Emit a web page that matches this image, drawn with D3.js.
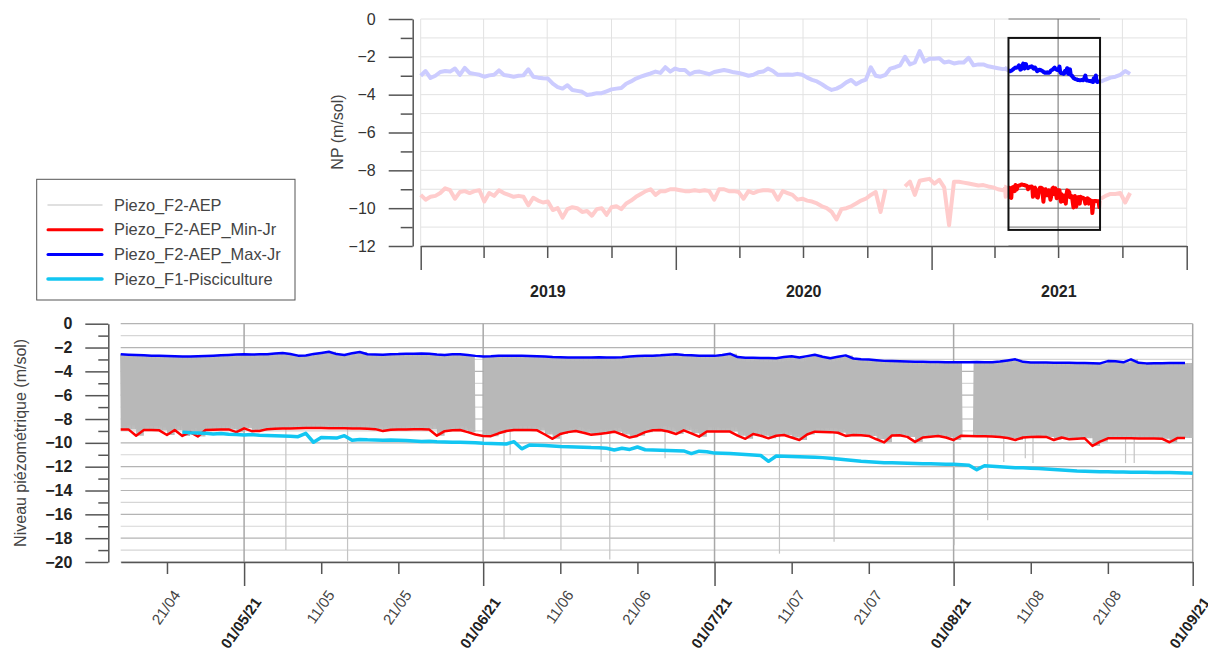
<!DOCTYPE html>
<html>
<head>
<meta charset="utf-8">
<script src="https://cdn.jsdelivr.net/npm/d3@7"></script>
<style>
  body { margin: 0; background: #fff; }
  svg { display: block; font-family: "Liberation Sans", Arial, sans-serif; }
</style>
</head>
<body>
<svg id="chart" width="1208" height="657"></svg>
<script>
// ---- data ----
// overview (top chart): one value per week from 2019-01-01, null = shown by the daily series
const overviewStart = '2019-01-01'
const overviewMax = [
  -3.0, -2.75, -3.12, -3.0, -2.8, -2.75, -2.78, -2.62, -2.95, -2.58,
  -2.85, -2.9, -2.95, -3.05, -2.98, -2.95, -2.72, -2.96, -3.0, -3.05,
  -3.0, -2.98, -2.66, -3.05, -3.1, -3.13, -3.15, -3.42, -3.6, -3.68,
  -3.5, -3.75, -3.8, -3.85, -4.02, -3.98, -3.92, -3.92, -3.82, -3.72,
  -3.68, -3.65, -3.42, -3.3, -3.15, -3.05, -2.96, -2.88, -2.78, -2.85,
  -2.55, -2.78, -2.62, -2.7, -2.7, -2.92, -2.8, -2.78, -2.85, -2.92,
  -2.8, -2.75, -2.7, -2.75, -2.82, -2.85, -2.92, -3.0, -2.95, -2.82,
  -2.78, -2.62, -2.75, -2.95, -2.95, -2.93, -2.95, -2.9, -2.95, -3.1,
  -3.22, -3.3, -3.45, -3.62, -3.75, -3.68, -3.55, -3.35, -3.22, -3.45,
  -3.3, -3.2, -2.55, -3.0, -3.05, -2.95, -2.62, -2.55, -2.45, -2.0,
  -2.4, -2.3, -1.7, -2.25, -2.1, -2.1, -2.08, -2.3, -2.25, -2.35,
  -2.3, -2.3, -2.05, -2.45, -2.4, -2.4, -2.5, -2.55, -2.6, -2.65, -2.62,
  null, null, null, null, null, null, null, null, null, null, null, null, null, null, null, null, null, null,
  -3.31, -3.2, -3.1, -3.05, -2.95, -2.75, -2.9
]
const overviewMin = [
  -9.3, -9.55, -9.4, -9.35, -9.2, -8.95, -9.05, -9.5, -9.15, -9.1,
  -9.2, -9.1, -9.05, -9.65, -9.2, -9.35, -9.05, -9.2, -9.3, -9.4,
  -9.35, -9.4, -9.85, -9.45, -9.6, -9.7, -9.65, -10.1, -10.0, -10.5,
  -10.05, -9.95, -10.0, -10.2, -10.15, -10.4, -10.05, -10.0, -10.35, -9.95,
  -9.9, -10.05, -9.75, -9.6, -9.4, -9.25, -9.1, -9.0, -9.3, -9.1,
  -9.1, -9.0, -9.0, -9.05, -9.1, -9.1, -9.05, -9.1, -9.05, -9.1,
  -9.55, -9.0, -9.0, -9.1, -9.1, -9.15, -9.5, -9.1, -9.2, -9.1,
  -9.05, -9.05, -9.1, -9.55, -9.1, -9.2, -9.3, -9.55, -9.5, -9.6,
  -9.65, -9.75, -9.9, -10.0, -10.2, -10.6, -10.05, -10.0, -9.9, -9.75,
  -9.6, -9.5, -9.3, -9.15, -10.2, -9.0, null, null, null, -8.85,
  -8.6, -9.3, -8.55, -8.5, -8.45, -8.7, -8.5, -8.9, -10.9, -8.6,
  -8.6, -8.65, -8.7, -8.75, -8.8, -8.78, -8.85, -8.9, -9.0, -9.05, -8.9,
  null, null, null, null, null, null, null, null, null, null, null, null, null, null, null, null, null, null,
  -9.5, -9.35, -9.25, -9.25, -9.2, -9.7, -9.2
]
const years = ['2019', '2020', '2021']
const zoomWindow = ['2021-04-21', '2021-08-30']
const zoomLevels = [-1, -11.15]

// daily series (bottom chart) from 2021-04-15
const dailyStart = '2021-04-15'
const dailyMax = [
  -2.57, -2.60, -2.62, -2.65, -2.68, -2.70, -2.72, -2.74, -2.76, -2.75,
  -2.73, -2.71, -2.68, -2.65, -2.62, -2.59, -2.57, -2.58, -2.57, -2.56,
  -2.50, -2.45, -2.55, -2.68, -2.66, -2.55, -2.45, -2.36, -2.55, -2.62,
  -2.48, -2.38, -2.56, -2.58, -2.60, -2.56, -2.55, -2.52, -2.53, -2.50,
  -2.52, -2.58, -2.62, -2.57, -2.56, -2.62, -2.70, -2.76, -2.74, -2.70,
  -2.68, -2.68, -2.70, -2.72, -2.74, -2.76, -2.80, -2.82, -2.84, -2.84,
  -2.83, -2.84, -2.82, -2.83, -2.84, -2.82, -2.76, -2.72, -2.70, -2.68,
  -2.65, -2.60, -2.57, -2.62, -2.65, -2.68, -2.70, -2.70, -2.62, -2.52,
  -2.80, -2.86, -2.86, -2.87, -2.88, -2.90, -2.80, -2.74, -2.84, -2.72,
  -2.60, -2.78, -2.90, -2.78, -2.66, -2.92, -2.99, -3.00, -3.06, -3.12,
  -3.14, -3.16, -3.18, -3.19, -3.20, -3.22, -3.22, -3.23, -3.24, -3.24,
  -3.23, -3.22, -3.23, -3.24, -3.18, -3.08, -2.99, -3.20, -3.25, -3.25,
  -3.26, -3.27, -3.28, -3.28, -3.29, -3.30, -3.32, -3.33, -3.14, -3.16,
  -3.24, -2.99, -3.28, -3.33, -3.32, -3.31, -3.30, -3.30, -3.30, null
]
const dailyMin = [
  -8.87, -8.87, -9.40, -8.92, -8.92, -8.95, -9.34, -8.92, -9.42, -9.10,
  -9.46, -8.92, -8.90, -8.88, -8.87, -9.10, -8.78, -9.02, -9.00, -8.85,
  -8.82, -8.80, -8.80, -8.78, -8.76, -8.75, -8.76, -8.77, -8.78, -8.78,
  -8.80, -8.80, -8.82, -8.85, -9.00, -8.90, -8.88, -8.87, -8.86, -8.85,
  -8.88, -9.40, -9.02, -8.95, -8.92, -9.10, -9.30, -9.42, -9.44, -9.20,
  -9.00, -8.92, -8.92, -8.92, -8.95, -9.30, -9.66, -9.26, -9.10, -9.00,
  -9.15, -9.32, -9.25, -9.18, -9.06, -9.30, -9.56, -9.40, -9.10, -8.95,
  -8.92, -9.05, -9.26, -8.95, -9.20, -9.48, -9.05, -9.05, -9.05, -9.05,
  -9.40, -9.66, -9.26, -9.40, -9.62, -9.40, -9.34, -9.55, -9.76, -9.30,
  -9.06, -9.08, -9.10, -9.15, -9.42, -9.34, -9.36, -9.42, -9.70, -9.96,
  -9.38, -9.36, -9.50, -9.92, -9.55, -9.48, -9.42, -9.55, -9.76, -9.40,
  -9.42, -9.44, -9.45, -9.46, -9.50, -9.60, -9.76, -9.55, -9.50, -9.48,
  -9.50, -9.76, -9.55, -9.70, -9.65, -9.62, -10.26, -9.90, -9.62, -9.62,
  -9.62, -9.62, -9.63, -9.64, -9.64, -9.65, -9.95, -9.60, -9.60, null
]
const pisciculture = [
  null, null, null, null, null, null, null, null, -9.10, -9.15,
  -9.18, -9.20, -9.25, -9.22, -9.28, -9.30, -9.34, -9.30, -9.36, -9.38,
  -9.40, -9.42, -9.44, -9.48, -9.20, -9.95, -9.55, -9.58, -9.60, -9.40,
  -9.78, -9.72, -9.75, -9.76, -9.78, -9.76, -9.78, -9.80, -9.84, -9.88,
  -9.86, -9.90, -9.92, -9.94, -9.96, -9.98, -10.00, -10.04, -10.06, -10.08,
  -10.10, -9.90, -10.50, -10.18, -10.20, -10.22, -10.26, -10.30, -10.32, -10.34,
  -10.36, -10.40, -10.42, -10.46, -10.60, -10.45, -10.55, -10.35, -10.58, -10.60,
  -10.62, -10.64, -10.66, -10.68, -10.90, -10.70, -10.74, -10.86, -10.88, -10.90,
  -10.94, -10.98, -11.02, -11.06, -11.55, -11.10, -11.12, -11.14, -11.16, -11.18,
  -11.20, -11.24, -11.30, -11.36, -11.42, -11.48, -11.54, -11.58, -11.62, -11.66,
  -11.68, -11.70, -11.72, -11.74, -11.75, -11.76, -11.78, -11.79, -11.80, -11.84,
  -11.88, -12.25, -11.92, -11.96, -12.00, -12.04, -12.08, -12.10, -12.13, -12.16,
  -12.20, -12.24, -12.28, -12.32, -12.36, -12.38, -12.40, -12.42, -12.43, -12.44,
  -12.45, -12.46, -12.46, -12.47, -12.48, -12.48, -12.49, -12.50, -12.52, -12.56
]
// raw AEP probe: pump cycles between the daily max and min, a few gaps and drawdown spikes
const aepCyclesPerDay = 6
const aepGaps = [['2021-05-31T00:00', '2021-06-01T00:00'], ['2021-08-02T04:00', '2021-08-03T12:00']]
const aepSpikes = [
  ['2021-05-06T10:00', -19.0], ['2021-05-14T10:00', -19.9], ['2021-06-03T17:00', -18.1],
  ['2021-06-04T12:00', -11.0], ['2021-06-11T02:00', -19.0], ['2021-06-16T07:00', -11.6],
  ['2021-06-17T10:00', -19.8], ['2021-06-24T14:00', -11.3], ['2021-07-09T10:00', -19.3],
  ['2021-07-16T12:00', -18.3], ['2021-08-01T02:00', -18.6], ['2021-08-05T10:00', -16.5],
  ['2021-08-07T12:00', -11.6], ['2021-08-10T07:00', -11.3], ['2021-08-11T07:00', -11.7],
  ['2021-08-23T07:00', -11.7], ['2021-08-24T10:00', -11.7]
]

const legendNames = ['Piezo_F2-AEP', 'Piezo_F2-AEP_Min-Jr', 'Piezo_F2-AEP_Max-Jr', 'Piezo_F1-Pisciculture']
const legendColors = ['#d6d6d6', '#ff0000', '#0000ff', '#12c6f2']
const legendWidths = [1.5, 3, 3, 3.5]

// ---- helpers ----
const DAY = 864e5
const parse = s => new Date(s.length === 10 ? s + 'T00:00:00Z' : s + ':00Z')
const addDays = (d, n) => new Date(d.getTime() + n * DAY)

const dailyT0 = parse(dailyStart)
const daily = dailyMax.map((v, i) => ({t: addDays(dailyT0, i), max: v, min: dailyMin[i], pisc: pisciculture[i]}))
const ovT0 = parse(overviewStart)
const overview = overviewMax.map((v, i) => ({t: addDays(ovT0, 7 * i), max: v, min: overviewMin[i]}))

const svg = d3.select('#chart')
const axisColor = '#555'

// ================= top chart =================
const tx0 = 420.7, tx1 = 1186.7
const topX = d3.scaleUtc().domain([parse('2019-01-01'), parse('2022-01-01')]).range([tx0, tx1])
const topY = d3.scaleLinear().domain([0, -12]).range([19, 246])
const topG = svg.append('g')

topG.selectAll('line.hg').data(d3.range(0, -13, -1)).join('line')
  .attr('x1', tx0).attr('x2', tx1)
  .attr('y1', d => topY(d)).attr('y2', d => topY(d))
  .attr('stroke', '#6e6e6e').attr('stroke-width', 1)

const quarters = topX.ticks(d3.utcMonth.every(3))
topG.selectAll('line.vg').data(quarters).join('line')
  .attr('x1', d => topX(d)).attr('x2', d => topX(d))
  .attr('y1', topY(0)).attr('y2', topY(-12))
  .attr('stroke', '#6e6e6e').attr('stroke-width', 1)

const topLine = key => d3.line().defined(d => d[key] != null).x(d => topX(d.t)).y(d => topY(d[key]))
const drawTop = (data, key, color) => topG.append('path').datum(data)
  .attr('d', topLine(key)).attr('fill', 'none').attr('stroke', color)
  .attr('stroke-width', 4).attr('stroke-linejoin', 'round')

drawTop(overview, 'max', '#0000ff')
drawTop(overview, 'min', '#ff0000')
drawTop(daily, 'max', '#0000ff')
drawTop(daily, 'min', '#ff0000')

// fade everything outside the zoom window
const bx0 = topX(parse(zoomWindow[0])), bx1 = topX(parse(zoomWindow[1]))
topG.append('rect').attr('x', tx0 - 2).attr('y', topY(0) - 1)
  .attr('width', bx0 - tx0 + 2).attr('height', topY(-12) - topY(0) + 1)
  .attr('fill', '#fff').attr('opacity', 0.8)
topG.append('rect').attr('x', bx1).attr('y', topY(0) - 1)
  .attr('width', tx1 - bx1 + 2).attr('height', topY(-12) - topY(0) + 1)
  .attr('fill', '#fff').attr('opacity', 0.8)

topG.append('rect')
  .attr('x', bx0).attr('y', topY(zoomLevels[0]))
  .attr('width', bx1 - bx0).attr('height', topY(zoomLevels[1]) - topY(zoomLevels[0]))
  .attr('fill', 'none').attr('stroke', '#111').attr('stroke-width', 2)

// top y axis
const topYAxis = topG.append('g').attr('transform', 'translate(412.7,0)')
topYAxis.call(d3.axisLeft(topY).tickValues(d3.range(0, -13, -2)).tickSize(24).tickSizeOuter(0).tickPadding(13))
topYAxis.append('g').call(d3.axisLeft(topY).tickValues(d3.range(-1, -12, -2)).tickSize(12).tickFormat(''))
  .select('.domain').remove()

// top x axis
const topXAxis = topG.append('g').attr('transform', `translate(0,${topY(-12)})`)
topXAxis.call(d3.axisBottom(topX).tickValues(topX.ticks(d3.utcYear.every(1))).tickSize(24).tickSizeOuter(0).tickFormat(''))
topXAxis.append('g').call(d3.axisBottom(topX).tickValues(quarters.filter(d => d.getUTCMonth() !== 0)).tickSize(12).tickFormat(''))
  .select('.domain').remove()

topG.selectAll('text.year').data(years).join('text')
  .attr('x', d => topX(parse(d + '-07-02'))).attr('y', 297)
  .attr('text-anchor', 'middle').attr('font-size', 16).attr('font-weight', 'bold').attr('fill', '#222')
  .text(d => d)

topG.append('text')
  .attr('transform', 'translate(343,132) rotate(-90)')
  .attr('text-anchor', 'middle').attr('font-size', 16).attr('fill', '#444')
  .text('NP (m/sol)')

// ================= legend =================
const legend = svg.append('g')
legend.append('rect').attr('x', 36.7).attr('y', 179.3).attr('width', 258.3).attr('height', 120.7)
  .attr('fill', '#fff').attr('stroke', '#555').attr('stroke-width', 1)
legendNames.forEach((name, i) => {
  const y = 205 + i * 24.7
  legend.append('line').attr('x1', 48).attr('x2', 102).attr('y1', y).attr('y2', y)
    .attr('stroke', legendColors[i]).attr('stroke-width', legendWidths[i]).attr('stroke-linecap', 'round')
  legend.append('text').attr('x', 114).attr('y', y + 5.5)
    .attr('font-size', 16.4).attr('fill', '#444').text(name)
})

// ================= bottom chart =================
const bx0b = 120.7, bx1b = 1192.7
const botX = d3.scaleUtc().domain([parse('2021-04-15'), parse('2021-09-01')]).range([bx0b, bx1b])
const botY = d3.scaleLinear().domain([0, -20]).range([323.7, 562])
const botG = svg.append('g')

botG.selectAll('line.hg').data(d3.range(0, -21, -1)).join('line')
  .attr('x1', bx0b).attr('x2', bx1b)
  .attr('y1', d => botY(d)).attr('y2', d => botY(d))
  .attr('stroke', d => d % 2 === 0 ? '#b4b4b4' : '#d6d6d6').attr('stroke-width', 1.2)

const months = botX.ticks(d3.utcMonth.every(1))
botG.selectAll('line.vg').data(months).join('line')
  .attr('x1', d => botX(d)).attr('x2', d => botX(d))
  .attr('y1', botY(0)).attr('y2', botY(-20))
  .attr('stroke', '#a8a8a8').attr('stroke-width', 1.5)

// raw AEP series
const gaps = aepGaps.map(g => g.map(parse))
const inGap = t => gaps.some(([a, b]) => t >= a && t <= b)
const raw = []
daily.forEach(d => {
  if (d.max == null) return
  for (let i = 0; i < aepCyclesPerDay; i++) {
    const t1 = new Date(d.t.getTime() + i * DAY / aepCyclesPerDay)
    const t2 = new Date(t1.getTime() + DAY / aepCyclesPerDay / 2)
    raw.push({t: t1, v: d.max}, {t: t2, v: d.min})
  }
})
botG.append('path').datum(raw)
  .attr('d', d3.line().defined(p => !inGap(p.t)).x(p => botX(p.t)).y(p => botY(p.v)))
  .attr('fill', 'none').attr('stroke', '#b8b8b8').attr('stroke-width', 1.2)

const minAt = t => daily[Math.floor((t - dailyT0) / DAY)].min
botG.selectAll('line.spike').data(aepSpikes).join('line')
  .attr('x1', d => botX(parse(d[0]))).attr('x2', d => botX(parse(d[0])))
  .attr('y1', d => botY(minAt(parse(d[0])))).attr('y2', d => botY(d[1]))
  .attr('stroke', '#c4c4c4').attr('stroke-width', 1.2)

const botLine = key => d3.line().defined(d => d[key] != null).x(d => botX(d.t)).y(d => botY(d[key]))
botG.append('path').datum(daily).attr('d', botLine('min'))
  .attr('fill', 'none').attr('stroke', '#ff0000').attr('stroke-width', 2.5).attr('stroke-linejoin', 'round')
botG.append('path').datum(daily).attr('d', botLine('max'))
  .attr('fill', 'none').attr('stroke', '#0000ff').attr('stroke-width', 2.5).attr('stroke-linejoin', 'round')
botG.append('path').datum(daily).attr('d', botLine('pisc'))
  .attr('fill', 'none').attr('stroke', '#12c6f2').attr('stroke-width', 3.5).attr('stroke-linejoin', 'round')

// bottom y axis
const botYAxis = botG.append('g').attr('transform', 'translate(108.3,0)')
botYAxis.call(d3.axisLeft(botY).tickValues(d3.range(0, -21, -2)).tickSize(23).tickSizeOuter(0).tickPadding(13))
botYAxis.append('g').call(d3.axisLeft(botY).tickValues(d3.range(-1, -20, -2)).tickSize(10).tickFormat(''))
  .select('.domain').remove()
botYAxis.selectAll('text').attr('font-weight', 'bold').attr('fill', '#222')

// bottom x axis
const dayTicks = botX.ticks(d3.utcDay.every(1)).filter(d => [1, 11, 21].includes(d.getUTCDate()))
const botXAxis = botG.append('g').attr('transform', `translate(0,${botY(-20)})`)
botXAxis.call(d3.axisBottom(botX).tickValues(months).tickSize(24).tickSizeOuter(0).tickFormat(''))
botXAxis.append('g').call(d3.axisBottom(botX).tickValues(dayTicks.filter(d => d.getUTCDate() !== 1)).tickSize(12).tickFormat(''))
  .select('.domain').remove()

const fmtMonth = d3.utcFormat('%d/%m/%y'), fmtDay = d3.utcFormat('%d/%m')
botG.selectAll('text.xl').data(dayTicks).join('text')
  .attr('transform', d => {
    const major = d.getUTCDate() === 1
    return `translate(${botX(d) + (major ? 18 : 14)},${major ? 602 : 595}) rotate(-55)`
  })
  .attr('text-anchor', 'end').attr('font-size', 15)
  .attr('font-weight', d => d.getUTCDate() === 1 ? 'bold' : 'normal')
  .attr('fill', d => d.getUTCDate() === 1 ? '#222' : '#444')
  .text(d => d.getUTCDate() === 1 ? fmtMonth(d) : fmtDay(d))

botG.append('text')
  .attr('transform', `translate(26,${(botY(0) + botY(-20)) / 2}) rotate(-90)`)
  .attr('text-anchor', 'middle').attr('font-size', 16).attr('fill', '#444')
  .text('Niveau piézométrique (m/sol)')

// axis styling
svg.selectAll('.domain, .tick line').attr('stroke', axisColor).attr('stroke-width', 1.5)
topYAxis.selectAll('text').attr('font-size', 16).attr('fill', '#333')
botYAxis.selectAll('text').attr('font-size', 16)
svg.selectAll('.tick text').attr('font-family', '"Liberation Sans", Arial, sans-serif')
</script>
</body>
</html>
